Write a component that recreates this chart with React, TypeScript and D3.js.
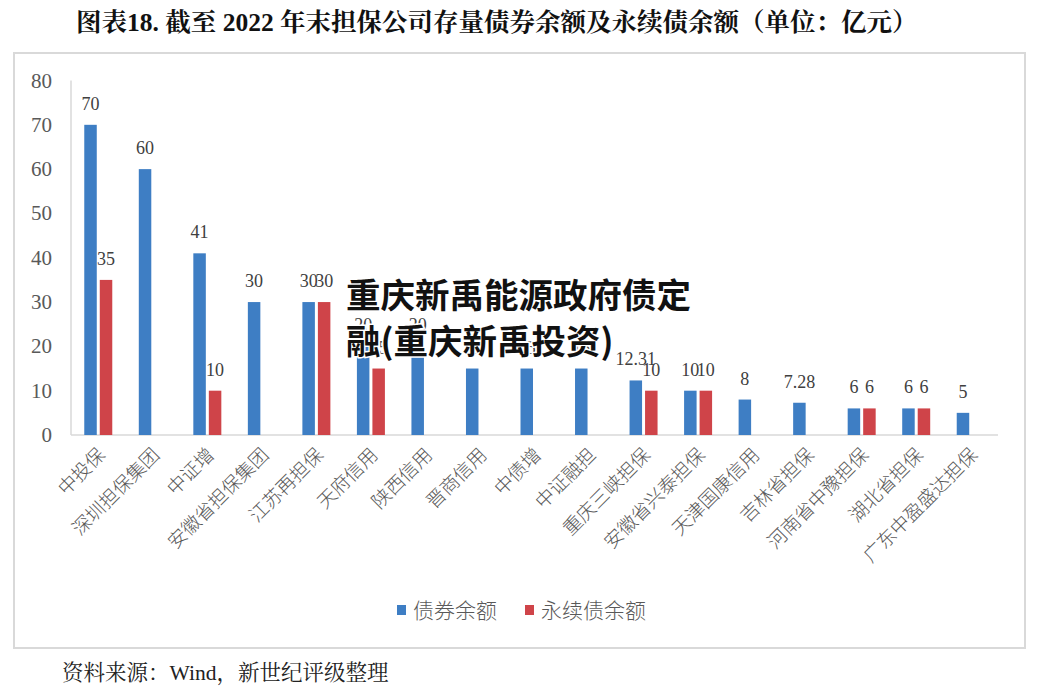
import React from "react";
import * as d3 from "d3";

const categories = [
  "中投保", "深圳担保集团", "中证增", "安徽省担保集团", "江苏再担保", "天府信用",
  "陕西信用", "晋商信用", "中债增", "中证融担", "重庆三峡担保", "安徽省兴泰担保",
  "天津国康信用", "吉林省担保", "河南省中豫担保", "湖北省担保", "广东中盈盛达担保",
];
const bondValues: number[] = [70, 60, 41, 30, 30, 20, 20, 15, 15, 15, 12.31, 10, 8, 7.28, 6, 6, 5];
const perpValues: (number | null)[] = [35, null, 10, null, 30, 15, null, null, null, null, 10, 10, null, null, 6, 6, null];
const yTicks = [0, 10, 20, 30, 40, 50, 60, 70, 80];
const seriesNames = ["债券余额", "永续债余额"];

const BLUE = "#3E7EC4";
const RED = "#CF4449";
const SERIF = "'Liberation Serif', 'Times New Roman', 'Noto Serif CJK SC', 'Noto Sans CJK SC', serif";
const CJK = "'Noto Sans CJK SC', sans-serif";

export default function App() {
  const x = d3.scaleBand<string>().domain(categories).range([71, 998]).paddingInner(0).paddingOuter(0);
  const y = d3.scaleLinear().domain([0, 80]).range([435, 80.5]);
  const bw = 12.5;
  const center = (c: string) => (x(c) as number) + x.bandwidth() / 2;

  return (
    <svg width={1040} height={694} style={{ position: "absolute", left: 0, top: 0, background: "#fff" }}>
      <rect x={0} y={0} width={1040} height={694} fill="#fff" />
      {/* title */}
      <text x={76} y={31} fontFamily={SERIF} fontWeight="bold" fontSize={25.5} fill="#111">
        图表18. 截至 2022 年末担保公司存量债券余额及永续债余额（单位：亿元）
      </text>
      {/* frame */}
      <rect x={14} y={53} width={1011} height={595} fill="none" stroke="#d9d9d9" strokeWidth={2} />
      {/* axes */}
      <line x1={71} x2={71} y1={y(80)} y2={y(0)} stroke="#d9d9d9" strokeWidth={1.5} />
      <line x1={71} x2={998} y1={y(0)} y2={y(0)} stroke="#d9d9d9" strokeWidth={1.5} />
      {yTicks.map((t) => (
        <text key={t} x={52} y={y(t) + 7} textAnchor="end" fontFamily={SERIF} fontSize={21} fill="#595959">
          {t}
        </text>
      ))}
      {/* bars */}
      {categories.map((c, i) => {
        const cx = center(c);
        const b = bondValues[i];
        const p = perpValues[i];
        return (
          <g key={c}>
            <rect x={cx - 14} y={y(b)} width={bw} height={y(0) - y(b)} fill={BLUE} />
            <text x={cx - 14 + bw / 2} y={y(b) - 15} textAnchor="middle" fontFamily={SERIF} fontSize={18} fill="#404040">
              {b}
            </text>
            {p !== null && (
              <>
                <rect x={cx + 1.5} y={y(p)} width={bw} height={y(0) - y(p)} fill={RED} />
                <text x={cx + 1.5 + bw / 2} y={y(p) - 15} textAnchor="middle" fontFamily={SERIF} fontSize={18} fill="#404040">
                  {p}
                </text>
              </>
            )}
          </g>
        );
      })}
      {/* x labels */}
      {categories.map((c) => {
        const cx = center(c);
        return (
          <text key={c} transform={`translate(${cx + 8},${456}) rotate(-45)`} textAnchor="end"
            fontFamily={CJK} fontWeight={300} fontSize={19} fill="#595959">
            {c}
          </text>
        );
      })}
      {/* legend */}
      <rect x={397} y={605} width={9} height={10} fill={BLUE} />
      <text x={413} y={618} fontFamily={CJK} fontWeight={300} fontSize={21} fill="#595959">{seriesNames[0]}</text>
      <rect x={525} y={605} width={9} height={10} fill={RED} />
      <text x={541} y={618} fontFamily={CJK} fontWeight={300} fontSize={21} fill="#595959">{seriesNames[1]}</text>
      {/* source */}
      <text x={62} y={680} fontFamily={SERIF} fontSize={21.5} fill="#222">资料来源：Wind，新世纪评级整理</text>
      {/* watermark overlay */}
      <g fontFamily={CJK} fontWeight="bold" fontSize={34.5} fill="#111" stroke="#fff" strokeWidth={3} style={{ paintOrder: "stroke" }}>
        <text x={346} y={308}>重庆新禹能源政府债定</text>
        <text x={346} y={354}>融(重庆新禹投资)</text>
      </g>
    </svg>
  );
}
